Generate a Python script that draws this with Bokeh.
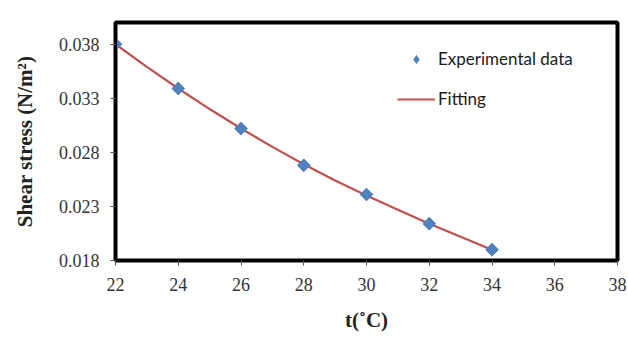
from bokeh.plotting import figure
from bokeh.models import FixedTicker, Range1d, Legend, LegendItem
from bokeh.embed import file_html
from bokeh.resources import INLINE
import math

# Data
temp_exp = [22, 24, 26, 28, 30, 32, 34]
stress_exp = [0.0380, 0.0339, 0.0302, 0.0268, 0.0241, 0.0214, 0.0190]
temp_fit = [22, 23, 24, 25, 26, 27, 28, 29, 30, 31, 32, 33, 34]
stress_fit = [0.0380, 0.0359, 0.0339, 0.0320, 0.0302, 0.0285, 0.0269, 0.0254,
              0.0240, 0.0227, 0.0214, 0.0202, 0.0190]
x_ticks = [22, 24, 26, 28, 30, 32, 34, 36, 38]
y_ticks = [0.018, 0.023, 0.028, 0.033, 0.038]

p = figure(width=628, height=341, output_backend="svg", toolbar_location=None,
           x_range=Range1d(22, 38), y_range=Range1d(0.018, 0.040),
           min_border_left=115, min_border_right=11, min_border_top=22, min_border_bottom=81)

p.xgrid.visible = False
p.ygrid.visible = False
p.outline_line_color = "black"
p.outline_line_width = 4
p.background_fill_color = "white"
p.border_fill_color = "white"

serif = "Liberation Serif"
for ax in (p.xaxis[0], p.yaxis[0]):
    ax.axis_line_color = "black"
    ax.axis_line_width = 3
    ax.major_tick_out = 5
    ax.major_tick_in = 0
    ax.major_tick_line_color = "#555555"
    ax.minor_tick_line_color = None
    ax.major_label_text_font = serif
    ax.major_label_text_font_size = "18px"
    ax.major_label_text_color = "#333333"
    ax.axis_label_text_font = serif
    ax.axis_label_text_font_size = "21px"
    ax.axis_label_text_font_style = "bold"
    ax.axis_label_text_color = "#222222"

p.xaxis.ticker = FixedTicker(ticks=x_ticks)
p.yaxis.ticker = FixedTicker(ticks=y_ticks)
p.xaxis.axis_label = "t(˚C)"
p.yaxis.axis_label = "Shear stress (N/m²)"
p.xaxis.major_label_standoff = 12
p.yaxis.major_label_standoff = 11
p.xaxis.axis_label_standoff = 14
p.yaxis.axis_label_standoff = 19

line = p.line(temp_fit, stress_fit, line_color="#C0504D", line_width=2.2)
# legend glyph (diamond), hidden beneath the rotated squares
pts_legend = p.scatter(temp_exp, stress_exp, marker="diamond", size=12,
                       fill_color="#4F81BD", line_color="#4F81BD")
pts = p.scatter(temp_exp, stress_exp, marker="square", angle=math.pi / 4, size=9,
                fill_color="#4F81BD", line_color="#4F81BD")

legend = Legend(items=[LegendItem(label="Experimental data", renderers=[pts_legend]),
                       LegendItem(label="Fitting", renderers=[line])],
                location=(282, 151), padding=0, margin=0, spacing=19,
                glyph_width=38, glyph_height=20, label_standoff=3,
                label_text_font="Lato", label_text_font_size="17px",
                label_text_color="#1a1a1a",
                border_line_alpha=0, background_fill_alpha=0)
p.add_layout(legend)

open("out.html", "w").write(file_html(p, INLINE))
